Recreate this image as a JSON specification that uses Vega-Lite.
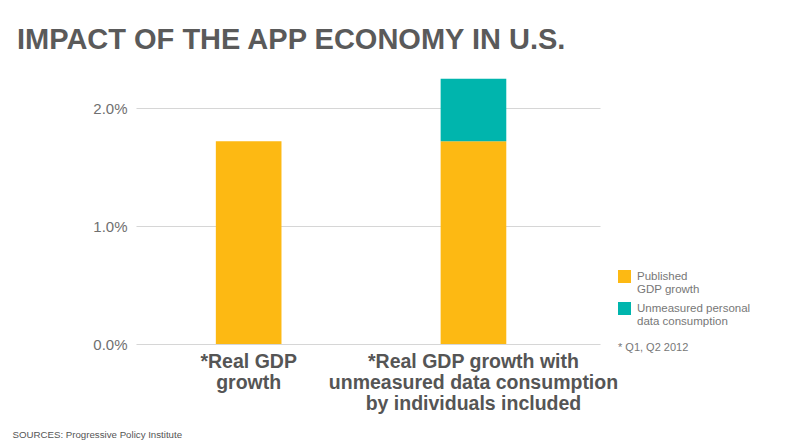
{
  "$schema": "https://vega.github.io/schema/vega-lite/v6.json",
  "width": 464,
  "height": 283,
  "autosize": {"type": "none"},
  "padding": {"left": 136, "top": 61, "right": 194, "bottom": 103},
  "background": "white",
  "title": {
    "text": "IMPACT OF THE APP ECONOMY IN U.S.",
    "anchor": "start",
    "frame": "group",
    "dx": -119,
    "dy": 23,
    "offset": 6,
    "baseline": "alphabetic",
    "font": "Liberation Sans, Arial, sans-serif",
    "fontSize": 29,
    "fontWeight": "bold",
    "color": "#5a5a5a"
  },
  "data": {
    "values": [
      {"category": "*Real GDP growth", "component": "Published GDP growth", "value": 1.72},
      {"category": "*Real GDP growth with unmeasured data consumption by individuals included", "component": "Published GDP growth", "value": 1.72},
      {"category": "*Real GDP growth with unmeasured data consumption by individuals included", "component": "Unmeasured personal data consumption", "value": 0.53}
    ]
  },
  "mark": {"type": "bar"},
  "encoding": {
    "x": {
      "field": "category",
      "type": "nominal",
      "sort": null,
      "scale": {"paddingInner": 0.708, "paddingOuter": 0.386, "align": 0.46},
      "axis": {
        "title": "SOURCES: Progressive Policy Institute",
        "titleX": -124,
        "titleY": 90,
        "titleAlign": "left",
        "titleAnchor": "start",
        "titleBaseline": "middle",
        "titleFont": "Liberation Sans, Arial, sans-serif",
        "titleFontSize": 9.7,
        "titleFontWeight": "normal",
        "titleColor": "#555555",
        "labelAngle": 0,
        "labelExpr": "datum.label == '*Real GDP growth' ? ['*Real GDP', 'growth'] : ['*Real GDP growth with', 'unmeasured data consumption', 'by individuals included']",
        "labelFont": "Liberation Sans, Arial, sans-serif",
        "labelFontSize": 19.5,
        "labelFontWeight": "bold",
        "labelColor": "#555555",
        "labelLineHeight": 21,
        "labelPadding": 8,
        "labelLimit": 400,
        "labelBaseline": "top",
        "domain": false,
        "ticks": false
      }
    },
    "y": {
      "field": "value",
      "type": "quantitative",
      "stack": "zero",
      "scale": {"domain": [0, 2.4], "nice": false},
      "axis": {
        "title": null,
        "values": [0, 1, 2],
        "labelExpr": "format(datum.value, '.1f') + '%'",
        "labelFont": "Liberation Sans, Arial, sans-serif",
        "labelFontSize": 15,
        "labelColor": "#707070",
        "labelPadding": 9,
        "domain": false,
        "ticks": false,
        "grid": true,
        "gridColor": "#d6d6d6",
        "gridWidth": 1.2
      }
    },
    "order": {"field": "component", "sort": "ascending"},
    "color": {
      "field": "component",
      "type": "nominal",
      "scale": {
        "domain": ["Published GDP growth", "Unmeasured personal data consumption"],
        "range": ["#FDB913", "#00B5AD"]
      },
      "legend": {
        "title": "* Q1, Q2 2012",
        "titleOrient": "bottom",
        "titleFont": "Liberation Sans, Arial, sans-serif",
        "titleFontSize": 11,
        "titleFontWeight": "normal",
        "titleColor": "#777777",
        "titlePadding": 14,
        "orient": "none",
        "legendX": 482,
        "legendY": 209,
        "symbolType": "square",
        "symbolSize": 169,
        "symbolStrokeWidth": 0,
        "symbolOpacity": 1,
        "labelExpr": "datum.label == 'Published GDP growth' ? ['Published', 'GDP growth'] : ['Unmeasured personal', 'data consumption']",
        "labelFont": "Liberation Sans, Arial, sans-serif",
        "labelFontSize": 11.5,
        "labelColor": "#777777",
        "labelLineHeight": 12.5,
        "labelOffset": 6,
        "labelLimit": 200,
        "rowPadding": 6
      }
    }
  },
  "config": {
    "view": {"stroke": null}
  }
}
